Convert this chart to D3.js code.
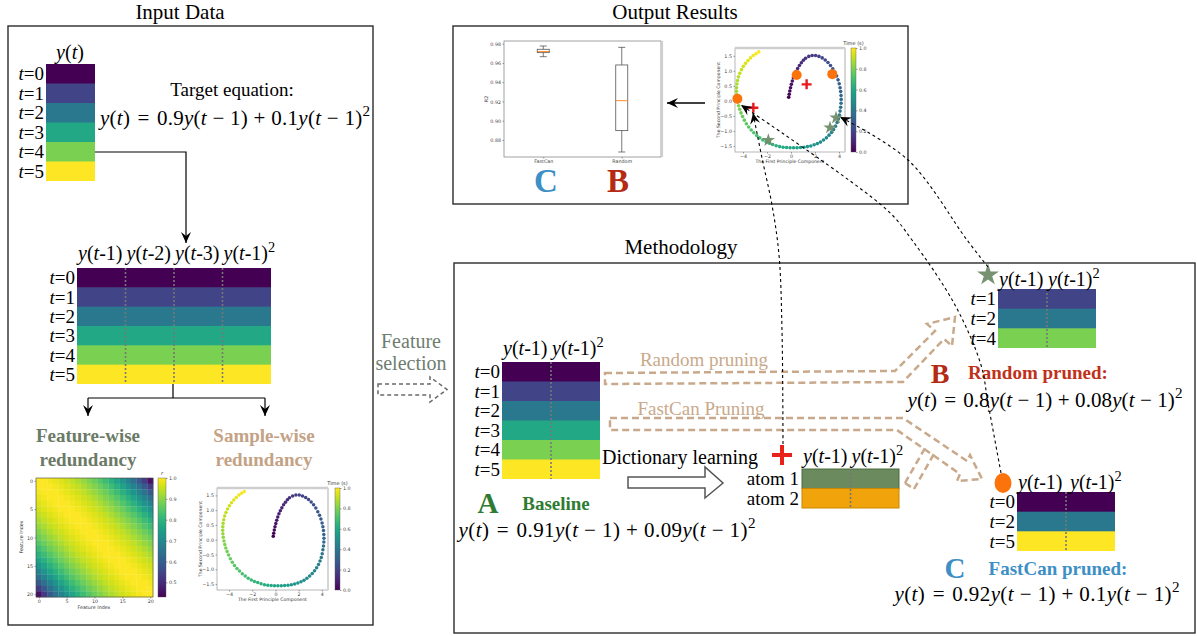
<!DOCTYPE html>
<html><head><meta charset="utf-8">
<script src="https://cdn.jsdelivr.net/npm/d3@7/dist/d3.min.js"></script>
<style>html,body{margin:0;padding:0;background:#fff;}svg{display:block;}</style>
</head><body>
<svg id="fig" width="1197" height="636" xmlns="http://www.w3.org/2000/svg"></svg>
<script>
// ---------------- DATA ----------------
const timeIdx = [0, 1, 2, 3, 4, 5];
const yNorm = [0.0, 0.2, 0.4, 0.6, 0.8, 1.0];          // normalised y(t) shown by colour
const featLags = ["1", "2", "3", "1"];
const featPows = [1, 1, 1, 2];
const selLags = ["1", "1"];
const selPows = [1, 2];
const randomRows = [1, 2, 4];
const fastcanRows = [0, 2, 5];
const atomNames = ["atom 1", "atom 2"];
const targetCoef = [0.9, 0.1];
const baselineCoef = [0.91, 0.09];
const randomCoef = [0.8, 0.08];
const fastcanCoef = [0.92, 0.1];
// correlation r between feature i and j, by lag |i-j|
const corrByLag = [1.0, 0.997, 0.99, 0.98, 0.97, 0.958, 0.945, 0.93, 0.912, 0.893, 0.872,
                   0.848, 0.822, 0.793, 0.76, 0.725, 0.685, 0.64, 0.59, 0.53, 0.455];
// PCA trajectory (first / second principal component), in time order
const pcX = [-0.19,-0.15,-0.10,-0.04,0.03,0.11,0.20,0.30,0.42,0.55,0.70,0.86,1.03,1.21,1.48,1.76,2.05,
  2.33,2.60,2.85,3.08,3.29,3.48,3.65,3.80,3.92,4.02,4.09,4.14,4.17,4.18,
  4.17,4.14,4.09,4.03,3.95,3.84,3.71,3.55,3.37,3.17,2.95,2.71,2.46,2.20,1.93,1.65,1.37,1.08,0.79,0.50,
  0.21,-0.08,-0.37,-0.66,-0.95,-1.24,-1.53,-1.81,-2.08,-2.35,-2.61,-2.86,-3.10,-3.32,-3.53,-3.72,-3.89,-4.04,-4.17,-4.28,
  -4.37,-4.44,-4.50,-4.53,-4.55,-4.54,-4.51,-4.46,-4.38,-4.27,-4.13,-3.97,-3.79,-3.59,-3.38,-3.15,-2.92,-2.69];
const pcY = [0.12,0.22,0.33,0.44,0.55,0.66,0.77,0.88,0.98,1.08,1.18,1.27,1.35,1.42,1.48,1.51,1.51,
  1.48,1.43,1.36,1.28,1.18,1.07,0.95,0.83,0.70,0.57,0.44,0.31,0.18,0.05,
  -0.08,-0.21,-0.34,-0.47,-0.60,-0.72,-0.84,-0.95,-1.05,-1.14,-1.23,-1.30,-1.37,-1.42,-1.46,-1.50,-1.52,-1.54,-1.55,-1.56,
  -1.56,-1.56,-1.55,-1.54,-1.52,-1.49,-1.45,-1.41,-1.36,-1.30,-1.23,-1.15,-1.06,-0.97,-0.87,-0.76,-0.64,-0.52,-0.40,-0.28,
  -0.16,-0.04,0.08,0.20,0.32,0.44,0.56,0.68,0.80,0.92,1.04,1.15,1.25,1.34,1.43,1.51,1.57,1.63];
const pcTicksX = [-4, -2, 0, 2, 4];
const pcTicksY = [-1.5, -1.0, -0.5, 0.0, 0.5, 1.0, 1.5];
const timeTicks = [0.0, 0.2, 0.4, 0.6, 0.8, 1.0];
const rTicks = [0.5, 0.6, 0.7, 0.8, 0.9, 1.0];
const idxTicks = [0, 5, 10, 15, 20];
// boxplot of R2
const boxNames = ["FastCan", "Random"];
const boxMin = [0.9665, 0.8675];
const boxQ1 = [0.9707, 0.8897];
const boxMed = [0.9718, 0.9208];
const boxQ3 = [0.9742, 0.9579];
const boxMax = [0.9776, 0.9762];
const r2Ticks = [0.88, 0.90, 0.92, 0.94, 0.96, 0.98];
// selected samples / atoms in PCA space
const circlePC = [[-4.47, 0.07], [0.47, 0.86], [3.44, 0.89]];
const plusPC = [[1.3, 0.55], [-3.14, -0.23]];
const starPC = [[3.75, -0.56], [3.25, -0.89], [-1.89, -1.31]];

// ---------------- STYLE / HELPERS ----------------
const svg = d3.select("#fig");
svg.append("rect").attr("width", 1197).attr("height", 636).attr("fill", "#fff");
const SERIF = '"Liberation Serif","Times New Roman",serif';
const SANS = '"DejaVu Sans","Liberation Sans",sans-serif';
const vir = d3.interpolateViridis;
const TAN = "#c9a98b";
const defs = svg.append("defs");
defs.append("marker").attr("id", "ah").attr("viewBox", "-12 -6 13 12").attr("refX", 0).attr("refY", 0)
  .attr("markerWidth", 13).attr("markerHeight", 12).attr("markerUnits", "userSpaceOnUse").attr("orient", "auto")
  .append("path").attr("d", "M0,0 L-11,-5 L-7,0 L-11,5 Z").attr("fill", "#000");

function rich(parent, x, y, tokens, size, opt = {}) {
  const t = parent.append("text").attr("x", x).attr("y", y).attr("font-family", SERIF).attr("font-size", size)
    .attr("text-anchor", opt.anchor || "start").attr("fill", opt.fill || "#000");
  if (opt.weight) t.attr("font-weight", opt.weight);
  tokens.forEach(([s, st]) => {
    const ts = t.append("tspan").text(s);
    if (st === "i") ts.attr("font-style", "italic");
    if (st === "s") ts.attr("font-size", size * 0.72).attr("dy", -size * 0.42);
  });
  if (opt.len) t.attr("textLength", opt.len).attr("lengthAdjust", "spacing");
  return t;
}
function plain(parent, x, y, s, size, opt = {}) {
  const t = parent.append("text").attr("x", x).attr("y", y).attr("font-family", opt.family || SERIF)
    .attr("font-size", size).attr("text-anchor", opt.anchor || "middle").attr("fill", opt.fill || "#000").text(s);
  if (opt.weight) t.attr("font-weight", opt.weight);
  if (opt.rotate) t.attr("transform", `rotate(${opt.rotate},${x},${y})`);
  return t;
}
const featTokens = (lag, pow) => {
  const a = [["y", "i"], ["(", "n"], ["t", "i"], ["-" + lag + ")", "n"]];
  if (pow === 2) a.push(["2", "s"]);
  return a;
};
const tTokens = k => [["t", "i"], ["=" + k, "n"]];
const S1 = "\u2004", S2 = "\u2005";
const eqTokens = c => [["y", "i"], ["(", "n"], ["t", "i"], [")" + S1 + "=" + S1 + c[0], "n"], ["y", "i"], ["(", "n"], ["t", "i"],
  [S2 + "\u2212" + S2 + "1)" + S2 + "+" + S2 + c[1], "n"], ["y", "i"], ["(", "n"], ["t", "i"], [S2 + "\u2212" + S2 + "1)", "n"], ["2", "s"]];

function vtable(g, rows, nCols, x0, x1, y0, y1, labels, labGap, tfs, labOff) {
  const x = d3.scaleBand().domain(d3.range(nCols)).range([x0, x1]);
  const y = d3.scaleBand().domain(rows).range([y0, y1]);
  g.selectAll(null).data(rows).join("rect").attr("x", x0).attr("y", d => y(d)).attr("width", x1 - x0)
    .attr("height", (d, i) => y.bandwidth() + (i < rows.length - 1 ? 0.6 : 0)).attr("fill", d => vir(yNorm[d]));
  for (let c = 1; c < nCols; c++)
    g.append("line").attr("x1", x(c)).attr("x2", x(c)).attr("y1", y0).attr("y2", y1)
      .attr("stroke", "#777").attr("stroke-width", 1.6).attr("stroke-dasharray", "2,2");
  rows.forEach(r => rich(g, x0 - 2, y(r) + y.bandwidth() / 2 + 6.5, tTokens(r), tfs, { anchor: "end" }));
  if (labels) labels.forEach((l, c) => rich(g, x(c) + 1 + (labOff ? labOff[c] : 0), y0 - labGap, featTokens(l[0], l[1]), 20));
  return { x, y };
}
function smallAxis(g, axis, transform) {
  const a = g.append("g").attr("transform", transform).call(axis);
  a.select(".domain").remove();
  a.selectAll("text").attr("font-size", 4.8).attr("font-family", SANS).attr("fill", "#444");
  a.selectAll("line").attr("stroke", "#444").attr("stroke-width", 0.5);
  return a;
}
let gradN = 0;
function colorbar(g, x0, x1, y0, y1, domain, ticks, fmt, label, italic) {
  const id = "grad" + (gradN++);
  const grad = defs.append("linearGradient").attr("id", id).attr("x1", 0).attr("y1", 1).attr("x2", 0).attr("y2", 0);
  d3.range(0, 1.0001, 0.05).forEach(t => grad.append("stop").attr("offset", t).attr("stop-color", vir(t)));
  g.append("rect").attr("x", x0).attr("y", y0).attr("width", x1 - x0).attr("height", y1 - y0)
    .attr("fill", `url(#${id})`).attr("stroke", "#555").attr("stroke-width", 0.4);
  const s = d3.scaleLinear().domain(domain).range([y1, y0]);
  smallAxis(g, d3.axisRight(s).tickValues(ticks).tickFormat(fmt).tickSize(1.5).tickPadding(1.5), `translate(${x1},0)`);
  const t = plain(g, (x0 + x1) / 2, y0 - 3, label, 5, { family: SANS, fill: "#333" });
  if (italic) t.attr("font-style", "italic");
}
function pcaPlot(g, x0, x1, y0, y1, xd, yd, r, cb) {
  const x = d3.scaleLinear().domain(xd).range([x0, x1]);
  const y = d3.scaleLinear().domain(yd).range([y1, y0]);
  g.append("rect").attr("x", x0).attr("y", y0).attr("width", x1 - x0).attr("height", y1 - y0)
    .attr("fill", "#fff").attr("stroke", "#999").attr("stroke-width", 0.7);
  g.append("line").attr("x1", x0).attr("x2", x1).attr("y1", y0).attr("y2", y0).attr("stroke", "#cfcfcf").attr("stroke-width", 2.4);
  g.append("line").attr("x1", x1).attr("x2", x1).attr("y1", y0).attr("y2", y1).attr("stroke", "#d5d5d5").attr("stroke-width", 1.6);
  const n = pcX.length;
  g.selectAll(null).data(pcX).join("circle").attr("cx", d => x(d)).attr("cy", (d, i) => y(pcY[i]))
    .attr("r", r).attr("fill", (d, i) => vir(i / (n - 1)));
  smallAxis(g, d3.axisBottom(x).tickValues(pcTicksX).tickSize(1.5).tickPadding(1.5), `translate(0,${y1})`);
  smallAxis(g, d3.axisLeft(y).tickValues(pcTicksY).tickFormat(d3.format(".1f")).tickSize(1.5).tickPadding(1.5), `translate(${x0},0)`);
  plain(g, (x0 + x1) / 2, y1 + 11, "The First Principle Component", 4.6, { family: SANS, fill: "#333" });
  plain(g, x0 - 15, (y0 + y1) / 2, "The Second Principle Component", 4.6, { family: SANS, fill: "#333", rotate: -90 });
  colorbar(g, cb[0], cb[1], y0, y1, [0, 1], timeTicks, d3.format(".1f"), "Time (s)");
  return { x, y };
}
function plus(g, cx, cy, h, w, col) {
  g.append("path").attr("d", `M${cx - h},${cy}H${cx + h}M${cx},${cy - h}V${cy + h}`)
    .attr("stroke", col).attr("stroke-width", w).attr("fill", "none");
}
function star(g, cx, cy, size, col) {
  g.append("path").attr("d", d3.symbol(d3.symbolStar).size(size)()).attr("transform", `translate(${cx},${cy})`)
    .attr("fill", col).attr("opacity", 0.95);
}

// ---------------- FRAMES & TITLES ----------------
function frame(x0, y0, x1, y1) {
  svg.append("rect").attr("x", x0).attr("y", y0).attr("width", x1 - x0).attr("height", y1 - y0)
    .attr("fill", "none").attr("stroke", "#2b2b2b").attr("stroke-width", 1.4);
}
frame(8, 26, 373, 625); frame(453, 26, 908, 204); frame(454, 263, 1195, 633);
plain(svg, 180, 19, "Input Data", 21);
plain(svg, 675, 19, "Output Results", 21);
plain(svg, 681, 254, "Methodology", 21);

// ---------------- INPUT DATA ----------------
const gIn = svg.append("g");
vtable(gIn, timeIdx, 1, 46, 95, 64, 181, null, 0, 19);
rich(gIn, 70, 59, [["y", "i"], ["(", "n"], ["t", "i"], [")", "n"]], 20, { anchor: "middle" });
plain(gIn, 232, 96, "Target equation:", 19);
rich(gIn, 235, 125, eqTokens(targetCoef), 21, { anchor: "middle", len: 270 });
gIn.append("path").attr("d", "M95,152H186V243").attr("fill", "none").attr("stroke", "#000").attr("stroke-width", 1.2).attr("marker-end", "url(#ah)");
vtable(gIn, timeIdx, 4, 77, 271, 268, 384, featLags.map((l, i) => [l, featPows[i]]), 8, 19);
gIn.append("path").attr("d", "M173,384V398M88,398H265").attr("fill", "none").attr("stroke", "#000").attr("stroke-width", 1.2);
["M88,398V416", "M265,398V416"].forEach(d => gIn.append("path").attr("d", d).attr("fill", "none").attr("stroke", "#000").attr("stroke-width", 1.2).attr("marker-end", "url(#ah)"));
plain(gIn, 88, 442, "Feature-wise", 19, { weight: "bold", fill: "#6b7a66" });
plain(gIn, 88, 466, "redundancy", 19, { weight: "bold", fill: "#6b7a66" });
plain(gIn, 264, 442, "Sample-wise", 19, { weight: "bold", fill: "#c4a285" });
plain(gIn, 264, 466, "redundancy", 19, { weight: "bold", fill: "#c4a285" });

// heatmap
const hIdx = d3.range(corrByLag.length);
const hx = d3.scaleBand().domain(hIdx).range([36, 153]);
const hy = d3.scaleBand().domain(hIdx).range([478, 597]);
const hc = d3.scaleSequential(vir).domain([0.43, 1.0]);
const cells = [];
hIdx.forEach(i => hIdx.forEach(j => cells.push({ i, j, v: corrByLag[Math.abs(i - j)] })));
gIn.selectAll(null).data(cells).join("rect").attr("x", d => hx(d.j)).attr("y", d => hy(d.i))
  .attr("width", hx.bandwidth() + 0.3).attr("height", hy.bandwidth() + 0.3).attr("fill", d => hc(d.v));
gIn.append("rect").attr("x", 36).attr("y", 478).attr("width", 117).attr("height", 119).attr("fill", "none").attr("stroke", "#444").attr("stroke-width", 0.6);
const hxl = d3.scaleLinear().domain([-0.5, 20.5]).range([36, 153]);
const hyl = d3.scaleLinear().domain([-0.5, 20.5]).range([478, 597]);
smallAxis(gIn, d3.axisBottom(hxl).tickValues(idxTicks).tickSize(1.5).tickPadding(1.5), "translate(0,597)");
smallAxis(gIn, d3.axisLeft(hyl).tickValues(idxTicks).tickSize(1.5).tickPadding(1.5), "translate(36,0)");
plain(gIn, 94, 609, "Feature Index", 4.8, { family: SANS, fill: "#333" });
plain(gIn, 23, 537, "Feature Index", 4.8, { family: SANS, fill: "#333", rotate: -90 });
colorbar(gIn, 158, 166, 478, 597, [0.43, 1.0], rTicks, d3.format(".1f"), "r", true);

// input PCA scatter
const gS1 = svg.append("g");
pcaPlot(gS1, 217, 328, 488, 590, [-5.04, 4.53], [-1.70, 1.75], 1.75, [335, 340]);

// feature selection arrow
plain(svg, 411, 348, "Feature", 20, { fill: "#6f7d6f" });
plain(svg, 411, 370, "selection", 20, { fill: "#6f7d6f" });
svg.append("path").attr("d", "M378,384H430V377L447,389.5L430,402V395H378Z").attr("fill", "none")
  .attr("stroke", "#6a6a6a").attr("stroke-width", 1.5).attr("stroke-dasharray", "4,3");

// ---------------- OUTPUT RESULTS ----------------
const gB = svg.append("g");
const bx = d3.scalePoint().domain(boxNames).range([504, 661]).padding(0.5);
const by = d3.scaleLinear().domain([0.8623, 0.9828]).range([157, 41]);
gB.append("rect").attr("x", 504).attr("y", 41).attr("width", 157).attr("height", 116).attr("fill", "#fff").attr("stroke", "#8a8a8a").attr("stroke-width", 0.8);
gB.append("line").attr("x1", 662).attr("x2", 662).attr("y1", 41).attr("y2", 157).attr("stroke", "#cfcfcf").attr("stroke-width", 2.2);
boxNames.forEach((n, i) => {
  const cx = bx(n), hw = 6, cw = 3.5;
  const ln = (x1, y1, x2, y2, col, w) => gB.append("line").attr("x1", x1).attr("y1", y1).attr("x2", x2).attr("y2", y2).attr("stroke", col).attr("stroke-width", w);
  ln(cx, by(boxMin[i]), cx, by(boxQ1[i]), "#555", 0.8);
  ln(cx, by(boxQ3[i]), cx, by(boxMax[i]), "#555", 0.8);
  ln(cx - cw, by(boxMin[i]), cx + cw, by(boxMin[i]), "#555", 0.8);
  ln(cx - cw, by(boxMax[i]), cx + cw, by(boxMax[i]), "#555", 0.8);
  gB.append("rect").attr("x", cx - hw).attr("y", by(boxQ3[i])).attr("width", 2 * hw).attr("height", by(boxQ1[i]) - by(boxQ3[i]))
    .attr("fill", "none").attr("stroke", "#555").attr("stroke-width", 0.8);
  ln(cx - hw, by(boxMed[i]), cx + hw, by(boxMed[i]), "#ff7f0e", 0.9);
});
smallAxis(gB, d3.axisLeft(by).tickValues(r2Ticks).tickFormat(d3.format(".2f")).tickSize(1.5).tickPadding(1.5), "translate(504,0)");
smallAxis(gB, d3.axisBottom(bx).tickSize(1.5).tickPadding(1.5), "translate(0,157)");
plain(gB, 488, 99, "R2", 4.8, { family: SANS, fill: "#333", rotate: -90 });
plain(svg, 546, 192, "C", 33, { weight: "bold", fill: "#3d8fc6" });
plain(svg, 618, 192, "B", 33, { weight: "bold", fill: "#b52a12" });
svg.append("path").attr("d", "M705,103H667").attr("stroke", "#000").attr("stroke-width", 1.3).attr("marker-end", "url(#ah)");

// output PCA scatter
const gS2 = svg.append("g");
const s2 = pcaPlot(gS2, 735, 845, 48, 152, [-4.67, 4.5], [-1.70, 1.76], 1.8, [851, 856]);
circlePC.forEach(p => gS2.append("circle").attr("cx", s2.x(p[0])).attr("cy", s2.y(p[1])).attr("r", 5).attr("fill", "#fb730a"));
plusPC.forEach(p => plus(gS2, s2.x(p[0]), s2.y(p[1]), 5, 2.4, "#e8191c"));
starPC.forEach(p => star(gS2, s2.x(p[0]), s2.y(p[1]), 55, "#6f8c68"));

// ---------------- METHODOLOGY ----------------
const gM = svg.append("g");
const selLabels = selLags.map((l, i) => [l, selPows[i]]);
vtable(gM, timeIdx, 2, 502, 600, 362, 479, selLabels, 7, 19);
plain(gM, 488, 513, "A", 29, { weight: "bold", fill: "#2e7b32" });
plain(gM, 556, 510, "Baseline", 19, { weight: "bold", fill: "#2e7b32" });
rich(gM, 607, 537, eqTokens(baselineCoef), 21, { anchor: "middle", len: 297 });

// random pruned table
vtable(gM, randomRows, 2, 998, 1096, 289, 348, selLabels, 3, 19);
star(gM, 988, 275, 150, "#6f8c68");
plain(gM, 940, 383, "B", 28, { weight: "bold", fill: "#b52a12" });
plain(gM, 1038, 379, "Random pruned:", 19, { weight: "bold", fill: "#c0311a" });
rich(gM, 1045, 407, eqTokens(randomCoef), 21, { anchor: "middle", len: 275 });

// fastcan pruned table
vtable(gM, fastcanRows, 2, 1017, 1115, 492, 551, selLabels, 3, 19, [0, 3]);
gM.append("ellipse").attr("cx", 1003).attr("cy", 483).attr("rx", 8.5).attr("ry", 10).attr("fill", "#fb730a");
plain(gM, 955, 578, "C", 29, { weight: "bold", fill: "#3d8fc6" });
plain(gM, 1058, 575, "FastCan pruned:", 19, { weight: "bold", fill: "#3d8fc6" });
rich(gM, 1037, 601, eqTokens(fastcanCoef), 21, { anchor: "middle", len: 285 });

// dictionary learning
plain(gM, 680, 464, "Dictionary learning", 20);
gM.append("path").attr("d", "M628,477H705V467L723,483L705,498V488H628Z").attr("fill", "#fff").attr("stroke", "#555").attr("stroke-width", 1.5);
const ax = d3.scaleBand().domain(selLags.map((l, i) => i)).range([802, 899]);
const ay = d3.scaleBand().domain(atomNames).range([469, 508]);
const atomFill = ["#6b8a5e", "#f0a30a"], atomStroke = ["#4a6a3c", "#c98700"];
atomNames.forEach((a, i) => {
  gM.append("rect").attr("x", 802).attr("y", ay(a)).attr("width", 97).attr("height", ay.bandwidth())
    .attr("fill", atomFill[i]).attr("stroke", atomStroke[i]).attr("stroke-width", 1);
  plain(gM, 799, ay(a) + ay.bandwidth() / 2 + 6.5, a, 19, { anchor: "end" });
});
gM.append("line").attr("x1", ax(1)).attr("x2", ax(1)).attr("y1", 469).attr("y2", 508).attr("stroke", "#777").attr("stroke-width", 1.6).attr("stroke-dasharray", "2,2");
selLabels.forEach((l, c) => rich(gM, ax(c) + 1, 463, featTokens(l[0], l[1]), 20));
plus(gM, 782, 455, 10, 4, "#e8211a");

// pruning arrows
plain(gM, 704, 366, "Random pruning", 19, { fill: TAN });
plain(gM, 701, 415, "FastCan Pruning", 19, { fill: TAN });
const dashed = d => gM.append("path").attr("d", d).attr("fill", "none").attr("stroke", TAN).attr("stroke-width", 2.5).attr("stroke-dasharray", "7,4");
dashed("M605,373L895,371L935,331L927,324L955,317L952,346L944,339L903,382L605,384Z");
dashed("M610,418L903,418L967,461L970,455L982,479L957,481L960,474L897,430L610,430Z");
dashed("M905,483L925,448M914,489L935,452M905,483L914,489");

// ---------------- CONNECTORS ----------------
const curve = d3.line().curve(d3.curveCatmullRom.alpha(0.5));
const conns = [
  [[783, 444], [782, 330], [779, 255], [772, 205], [762, 158], [753, 113]],
  [[1001, 473], [988, 403], [981, 365], [955, 305], [912, 240], [887, 210], [741, 105]],
  [[988, 267], [967, 240], [908, 160], [840, 117]]
];
conns.forEach(c => svg.append("path").attr("d", curve(c)).attr("fill", "none").attr("stroke", "#000")
  .attr("stroke-width", 1.1).attr("stroke-dasharray", "3,3").attr("marker-end", "url(#ah)"));
</script>
</body></html>
